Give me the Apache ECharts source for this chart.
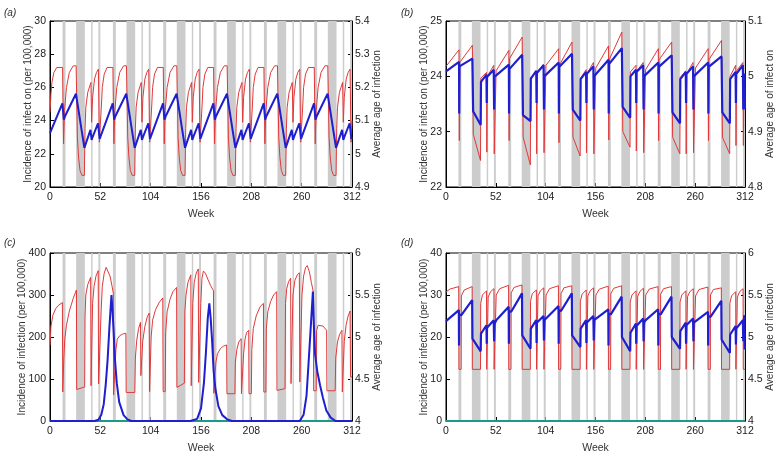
<!DOCTYPE html>
<html><head><meta charset="utf-8">
<script src="https://cdn.jsdelivr.net/npm/echarts@6/dist/echarts.min.js"></script>
<style>html,body{margin:0;padding:0;background:#fff}#c{width:782px;height:456px}</style>
</head><body><div id="c"></div>
<script>
const xTicks = [0, 52, 104, 156, 208, 260, 312];
const holidays = [[13,16],[27,36],[42.5,44],[50,52],[65,68],[79,88],[94.5,96],[102,104],[117,120],[131,140],[146.5,148],[154,156],[169,172],[183,192],[198.5,200],[206,208],[221,224],[235,244],[250.5,252],[258,260],[273,276],[287,296],[302.5,304],[310,312]];

const aRed = [[0,24.5],[1,25.6],[2,26.3],[4,26.9],[7,27.2],[13,27.2],[14,22.6],[15,24.6],[17,26],[20,26.9],[24,27.3],[27,27.3],[28.3,23],[29.5,21.8],[31,21],[33,20.7],[35.5,20.7],[36.2,23.5],[37,24.8],[39,25.7],[42.3,26.3],[43,23.9],[44,25.4],[46,26.5],[48,26.9],[50,27.1],[51,22.7],
[52.3,22.7],[53.2,25],[54,26],[56,26.8],[59,27.2],[65,27.2],[66,22.6],[67,24.6],[69,26],[72,26.9],[76,27.3],[79,27.3],[80.3,23],[81.5,21.8],[83,21],[85,20.7],[87.5,20.7],[88.2,23.5],[89,24.8],[91,25.7],[94.3,26.3],[95,23.9],[96,25.4],[98,26.5],[100,26.9],[102,27.1],[103,22.7],
[104.3,22.7],[105.2,25],[106,26],[108,26.8],[111,27.2],[117,27.2],[118,22.6],[119,24.6],[121,26],[124,26.9],[128,27.3],[131,27.3],[132.3,23],[133.5,21.8],[135,21],[137,20.7],[139.5,20.7],[140.2,23.5],[141,24.8],[143,25.7],[146.3,26.3],[147,23.9],[148,25.4],[150,26.5],[152,26.9],[154,27.1],[155,22.7],
[156.3,22.7],[157.2,25],[158,26],[160,26.8],[163,27.2],[169,27.2],[170,22.6],[171,24.6],[173,26],[176,26.9],[180,27.3],[183,27.3],[184.3,23],[185.5,21.8],[187,21],[189,20.7],[191.5,20.7],[192.2,23.5],[193,24.8],[195,25.7],[198.3,26.3],[199,23.9],[200,25.4],[202,26.5],[204,26.9],[206,27.1],[207,22.7],
[208.3,22.7],[209.2,25],[210,26],[212,26.8],[215,27.2],[221,27.2],[222,22.6],[223,24.6],[225,26],[228,26.9],[232,27.3],[235,27.3],[236.3,23],[237.5,21.8],[239,21],[241,20.7],[243.5,20.7],[244.2,23.5],[245,24.8],[247,25.7],[250.3,26.3],[251,23.9],[252,25.4],[254,26.5],[256,26.9],[258,27.1],[259,22.7],
[260.3,22.7],[261.2,25],[262,26],[264,26.8],[267,27.2],[273,27.2],[274,22.6],[275,24.6],[277,26],[280,26.9],[284,27.3],[287,27.3],[288.3,23],[289.5,21.8],[291,21],[293,20.7],[295.5,20.7],[296.2,23.5],[297,24.8],[299,25.7],[302.3,26.3],[303,23.9],[304,25.4],[306,26.5],[308,26.9],[310,27.1],[311,22.7],[312,24]];

const aBlue = [[0,5.062],[12.8,5.152],[14.3,5.103],[15.5,5.113],[26.8,5.181],[35.5,5.018],[41.8,5.072],[43,5.042],[44,5.05],[49.6,5.092],[51.3,5.045],
[52.3,5.047],[64.8,5.152],[66.3,5.103],[67.5,5.113],[78.8,5.181],[87.5,5.018],[93.8,5.072],[95,5.042],[96,5.05],[101.6,5.092],[103.3,5.045],
[104.3,5.047],[116.8,5.152],[118.3,5.103],[119.5,5.113],[130.8,5.181],[139.5,5.018],[145.8,5.072],[147,5.042],[148,5.05],[153.6,5.092],[155.3,5.045],
[156.3,5.047],[168.8,5.152],[170.3,5.103],[171.5,5.113],[182.8,5.181],[191.5,5.018],[197.8,5.072],[199,5.042],[200,5.05],[205.6,5.092],[207.3,5.045],
[208.3,5.047],[220.8,5.152],[222.3,5.103],[223.5,5.113],[234.8,5.181],[243.5,5.018],[249.8,5.072],[251,5.042],[252,5.05],[257.6,5.092],[259.3,5.045],
[260.3,5.047],[272.8,5.152],[274.3,5.103],[275.5,5.113],[286.8,5.181],[295.5,5.018],[301.8,5.072],[303,5.042],[304,5.05],[309.6,5.092],[311.3,5.045],[312,5.05]];

const bRed = [[0,24.18],[13.6,24.48],[13.9,22.84],[14.3,24.25],[27.5,24.56],[28.5,22.95],[36,22.48],[36.4,23.97],[42.3,24.07],[42.6,22.63],[43.2,24.0],[49.8,24.2],[50.3,22.6],
[52.3,24.1],[65.6,24.47],[65.9,22.84],[66.3,24.32],[79.5,24.71],[80.5,22.9],[88,22.4],[88.4,23.97],[94.3,24.1],[94.6,22.6],[95.2,24.05],[101.8,24.22],[102.3,22.62],
[104.3,24.2],[117.6,24.5],[117.9,22.8],[118.3,24.2],[131.5,24.62],[132.5,22.9],[140,22.56],[140.4,23.97],[146.3,24.12],[146.6,22.62],[147.2,24.05],[153.8,24.25],[154.3,22.6],
[156.3,24.15],[169.6,24.55],[169.9,22.85],[170.3,24.3],[183.5,24.8],[184.5,23.0],[192,22.72],[192.4,24.08],[198.3,24.2],[198.6,22.65],[199.2,24.1],[205.8,24.25],[206.3,22.62],
[208.3,24.12],[221.6,24.5],[221.9,22.84],[222.3,24.3],[235.5,24.62],[236.5,22.9],[244,22.6],[244.4,23.98],[250.3,24.1],[250.6,22.6],[251.2,24.05],[257.8,24.25],[258.3,22.62],
[260.3,24.15],[273.6,24.5],[273.9,22.84],[274.3,24.3],[287.5,24.65],[288.5,22.9],[296,22.6],[296.4,24.0],[302.3,24.2],[302.6,22.75],[303.2,24.1],[309.8,24.25],[310.3,22.75],[311,24.0],[312,24.02]];

const bBlue = [[0,5.009],[13.6,5.026],[13.8,4.933],[14.1,5.018],[27.5,5.032],[28.3,4.937],[36.2,4.912],[36.5,4.99],[42.2,5.003],[42.5,4.952],[42.8,4.999],[49.8,5.012],[50.2,4.94],[50.5,4.999],
[52.4,4.999],[65.6,5.021],[65.8,4.933],[66.1,5.013],[79.5,5.039],[80.3,4.93],[88.2,4.919],[88.5,4.996],[94.2,5.01],[94.5,4.952],[94.8,5.006],[101.8,5.02],[102.2,4.94],[102.5,5.0],
[104.4,5.0],[117.6,5.025],[117.8,4.933],[118.1,5.017],[131.5,5.041],[132.3,4.94],[140.2,4.92],[140.5,4.995],[146.2,5.008],[146.5,4.952],[146.8,5.004],[153.8,5.018],[154.2,4.94],[154.5,5.0],
[156.4,5.003],[169.6,5.03],[169.8,4.933],[170.1,5.022],[183.5,5.051],[184.3,4.945],[192.2,4.925],[192.5,5.0],[198.2,5.012],[198.5,4.952],[198.8,5.008],[205.8,5.02],[206.2,4.94],[206.5,5.0],
[208.4,5.0],[221.6,5.025],[221.8,4.933],[222.1,5.017],[235.5,5.038],[236.3,4.935],[244.2,4.915],[244.5,4.995],[250.2,5.008],[250.5,4.952],[250.8,5.004],[257.8,5.018],[258.2,4.94],[258.5,5.0],
[260.4,5.0],[273.6,5.025],[273.8,4.933],[274.1,5.017],[287.5,5.036],[288.3,4.935],[296.2,4.915],[296.5,4.995],[302.2,5.008],[302.5,4.952],[302.8,5.004],[309.8,5.02],[310.2,4.94],[310.5,5.0],[311.5,5.005],[312,4.94]];

const cRed = [[0,180],[1,225],[3,252],[6,268],[9,276],[12.8,282],
[13.2,69],[14.3,150],[15.3,195],[17,228],[20,262],[24,292],[27.3,312],
[27.6,75],[35.8,81],[36.2,250],[37,300],[39,325],[42,342],
[42.4,84],[43.4,84],[44,280],[45.5,320],[47.5,345],[49.8,358],
[50.2,88],[52.2,88],[52.8,260],[54,320],[56,352],[58,366],[60,362],[62,345],[64,322],[65.4,305],
[65.7,62],[67.7,62],[68.1,170],[69.5,195],[72,203],[75,207],[78.4,209],
[78.7,68],[87.6,68],[88.2,150],[89.5,190],[91.5,220],[93.5,235],
[93.9,108],[95,108],[95.8,190],[98,225],[100.5,248],[102.5,257],
[102.9,70],[104,70],[104.5,200],[106,240],[109,265],[113,283],[116.5,293],
[116.9,70],[119,70],[119.5,210],[121,260],[124,290],[127,308],[130.8,318],
[131.1,80],[138.8,90],[139.3,260],[140.5,300],[142.5,330],[145.5,348],
[145.9,84],[147,84],[147.5,280],[149,330],[151,352],[153.2,362],
[153.6,92],[155.4,92],[155.8,280],[157,340],[158.5,357],[160.5,352],[163,338],[166,322],[168.9,310],
[169.2,66],[171,66],[171.4,140],[173,160],[176,172],[179,178],[182.5,181],
[182.8,65],[191,65],[191.5,140],[193,170],[195,188],[197.5,196],
[197.8,65],[199.5,65],[200,160],[201.5,195],[203,210],[205.3,216],
[205.6,65],[208,65],[208.5,170],[210,220],[213,250],[217,272],[220.5,280],
[220.9,69],[223,69],[223.5,220],[225,260],[228,285],[231,300],[234.2,308],
[234.5,73],[242.8,77],[243.3,280],[244.5,315],[246.5,332],[248.6,340],
[249,89],[250.4,89],[251,300],[253,335],[255.5,348],[257.6,353],
[258.1,93],[259.8,93],[260.3,300],[262,345],[264,365],[265.8,370],[268,355],[270,330],[272,308],
[272.4,72],[275,72],[275.4,215],[277,228],[279,232],[282,226],[285.8,216],
[286.1,72],[294.6,72],[295.2,150],[297,188],[299,205],[301.6,216],
[302,69],[303.5,69],[304,190],[306,230],[308,250],[310,262],
[310.5,105],[312,105]];

const cBlue = [[0,0],[46,0],[50,3],[53,15],[55.5,40],[57.5,85],[59.5,145],[61.3,220],[63.5,300],[64.5,265],[65.6,220],[67,150],[69,90],[71.5,45],[76,14],[80,4],[84,0],
[145,0],[152,5],[156,30],[159,90],[161,160],[163,245],[164.6,280],[166,245],[167.5,190],[169,120],[171,75],[174,35],[178,14],[183,4],[188,0],
[258,0],[262,15],[265,60],[267,133],[269.3,220],[271.6,308],[272.6,230],[273.8,160],[276,120],[279,85],[282,55],[285.5,25],[290,8],[295,0],[312,0]];

const baseline = [[0,0],[312,0]];

const dRed = [[0,30.7],[4,31.4],[13.3,32.0],[13.5,12.3],[15.8,12.3],[16,29.8],[19,31.2],[27.3,32.0],[27.5,12.3],[36,12.3],[36.2,28.0],[38,30.0],[42.3,31.0],[42.5,12.3],[43.8,12.3],[44,29.5],[46.5,30.8],[50,31.5],[50.2,12.3],[52.2,12.3],
[52.4,30.0],[56,31.5],[65.3,32.3],[65.5,12.3],[67.8,12.3],[68,30.5],[71,31.8],[79.3,32.4],[79.5,12.3],[88,12.3],[88.2,28.5],[90,30.3],[94.3,31.2],[94.5,12.3],[95.8,12.3],[96,29.8],[98.5,31.0],[102,31.7],[102.2,12.3],[104.2,12.3],
[104.4,30.0],[108,31.5],[117.3,32.2],[117.5,12.3],[119.8,12.3],[120,30.3],[123,31.7],[131.3,32.2],[131.5,12.3],[140,12.3],[140.2,28.5],[142,30.2],[146.3,31.2],[146.5,12.3],[147.8,12.3],[148,29.8],[150.5,31.0],[154,31.7],[154.2,12.3],[156.2,12.3],
[156.4,30.0],[160,31.4],[169.3,32.1],[169.5,12.3],[171.8,12.3],[172,30.3],[175,31.6],[183.3,32.2],[183.5,12.3],[192,12.3],[192.2,28.3],[194,30.0],[198.3,31.0],[198.5,12.3],[199.8,12.3],[200,29.7],[202.5,30.9],[206,31.6],[206.2,12.3],[208.2,12.3],
[208.4,30.0],[212,31.4],[221.3,32.0],[221.5,12.3],[223.8,12.3],[224,30.2],[227,31.5],[235.3,32.0],[235.5,12.3],[244,12.3],[244.2,28.3],[246,30.0],[250.3,31.0],[250.5,12.3],[251.8,12.3],[252,29.6],[254.5,30.8],[258,31.5],[258.2,12.3],[260.2,12.3],
[260.4,29.8],[264,31.3],[273.3,31.9],[273.5,12.3],[275.8,12.3],[276,30.0],[279,31.3],[287.3,31.7],[287.5,12.3],[296,12.3],[296.2,28.0],[298,29.8],[302.3,30.8],[302.5,12.3],[303.8,12.3],[304,29.5],[306.5,30.8],[310,31.5],[310.2,12.3],[312,12.3]];

const dBlue = [[0,5.19],[13.4,5.32],[13.6,4.9],[13.8,5.27],[16,5.26],[27.3,5.44],[27.6,4.98],[36.2,4.83],[36.5,5.04],[42.2,5.14],[42.5,4.92],[42.8,5.11],[49.8,5.2],[50.2,4.95],[50.5,5.15],[52.4,5.2],
[65.4,5.36],[65.6,4.92],[65.8,5.31],[68,5.30],[79.3,5.52],[79.6,5.02],[88.2,4.86],[88.5,5.1],[94.2,5.2],[94.5,4.93],[94.8,5.17],[101.8,5.25],[102.2,4.96],[102.5,5.2],[104.4,5.22],
[117.4,5.37],[117.6,4.92],[117.8,5.32],[120,5.31],[131.3,5.52],[131.6,5.02],[140.2,4.88],[140.5,5.1],[146.2,5.2],[146.5,4.93],[146.8,5.17],[153.8,5.25],[154.2,4.96],[154.5,5.2],[156.4,5.2],
[169.4,5.33],[169.6,4.9],[169.8,5.28],[172,5.27],[183.3,5.48],[183.6,5.0],[192.2,4.83],[192.5,5.05],[198.2,5.16],[198.5,4.92],[198.8,5.13],[205.8,5.22],[206.2,4.95],[206.5,5.17],[208.4,5.2],
[221.4,5.33],[221.6,4.9],[221.8,5.28],[224,5.27],[235.3,5.48],[235.6,5.0],[244.2,4.86],[244.5,5.07],[250.2,5.17],[250.5,4.92],[250.8,5.14],[257.8,5.22],[258.2,4.95],[258.5,5.17],[260.4,5.18],
[273.4,5.3],[273.6,4.9],[273.8,5.25],[276,5.24],[287.3,5.43],[287.6,4.97],[296.2,4.81],[296.5,5.03],[302.2,5.13],[302.5,4.91],[302.8,5.1],[309.8,5.2],[310.2,4.95],[310.5,5.18],[311.4,5.26],[311.7,4.85],[312,4.85]];

const panelLabels = ['(a)', '(b)', '(c)', '(d)'];
const leftNames = ['Incidence of infect on (per 100,000)', 'Incidence of infect on (per 100,000)', 'Incidence of infection (per 100,000)', 'Incidence of infection (per 100,000)'];
const rightNames = ['Average age of infection', 'Average age of infect on', 'Average age of infection', 'Average age of infection'];
const leftRanges = [[20,30,2],[22,25,1],[0,400,100],[0,40,10]];
const rightRanges = [[4.9,5.4,0.1],[4.8,5.1,0.1],[4,6,0.5],[4,6,0.5]];

const FONT = 'Liberation Sans, Arial, sans-serif';
const RED = '#e0393a', BLUE = '#1f1fd0', BAND = '#cccccc', TEAL = '#1b9a8c';
const grids = [
  {left:50, top:21, width:302, height:166},
  {left:446, top:21, width:299, height:166},
  {left:50, top:253, width:302, height:168},
  {left:446, top:253, width:299, height:168}
];
const leftGaps = [17, 17, 23, 17];
const labelPos = [[4,8],[401,8],[4,238],[401,238]];

const option = {animation:false, backgroundColor:'#fff', grid:[], xAxis:[], yAxis:[], series:[], graphic:[]};
grids.forEach((g, i) => {
  option.grid.push(Object.assign({show:true, borderColor:'#000', borderWidth:1, backgroundColor:'transparent'}, g));
  option.xAxis.push({gridIndex:i, type:'value', min:xTicks[0], max:xTicks[xTicks.length-1], interval:52,
    axisLine:{show:true, onZero:false, lineStyle:{color:'#000', width:1}},
    axisTick:{show:true, inside:true, length:4, lineStyle:{color:'#000'}},
    axisLabel:{color:'#222', fontSize:10.5, margin:5, fontFamily:FONT},
    splitLine:{show:false},
    name:'Week', nameLocation:'middle', nameGap:22, nameTextStyle:{color:'#333', fontSize:10.5, fontFamily:FONT}});
  const L = leftRanges[i], R = rightRanges[i];
  option.yAxis.push({gridIndex:i, type:'value', position:'left', min:L[0], max:L[1], interval:L[2],
    axisLine:{show:true, onZero:false, lineStyle:{color:'#000'}},
    axisTick:{show:true, inside:true, length:4, lineStyle:{color:'#000'}},
    axisLabel:{color:'#222', fontSize:10.5, margin:4, fontFamily:FONT},
    splitLine:{show:false}, nameMoveOverlap:false,
    name:leftNames[i], nameLocation:'middle', nameGap:leftGaps[i], nameRotate:90,
    nameTextStyle:{color:'#333', fontSize:10, fontFamily:FONT}});
  option.yAxis.push({gridIndex:i, type:'value', position:'right', min:R[0], max:R[1], interval:R[2],
    axisLine:{show:true, onZero:false, lineStyle:{color:'#000'}},
    axisTick:{show:true, inside:true, length:4, lineStyle:{color:'#000'}},
    axisLabel:{color:'#222', fontSize:10.5, margin:3, fontFamily:FONT},
    splitLine:{show:false}, nameMoveOverlap:false,
    name:rightNames[i], nameLocation:'middle', nameGap:20, nameRotate:90,
    nameTextStyle:{color:'#333', fontSize:10, fontFamily:FONT}});
  option.series.push({type:'line', xAxisIndex:i, yAxisIndex:2*i, data:[], z:1, silent:true,
    markArea:{silent:true, itemStyle:{color:BAND}, data: holidays.map(h => [{xAxis:h[0]}, {xAxis:h[1]}])}});
  option.graphic.push({type:'text', left:labelPos[i][0], top:labelPos[i][1],
    style:{text:panelLabels[i], font:'italic 10px ' + FONT, fill:'#333'}});
});

function line(i, axis, data, color, width, z) {
  option.series.push({type:'line', xAxisIndex:i, yAxisIndex:axis, data:data, symbol:'none', showSymbol:false,
    lineStyle:{color:color, width:width}, z:z, silent:true, clip:true});
}
line(0, 0, aRed, RED, 1, 3);
line(0, 1, aBlue, BLUE, 2, 4);
line(1, 2, bRed, RED, 1, 3);
line(1, 3, bBlue, BLUE, 2.2, 4);
line(2, 4, baseline, TEAL, 2, 2);
line(2, 4, cRed, RED, 1, 3);
line(2, 4, cBlue, BLUE, 2, 4);
line(3, 6, baseline, TEAL, 2, 2);
line(3, 6, dRed, RED, 1, 3);
line(3, 7, dBlue, BLUE, 2.2, 4);

const chart = echarts.init(document.getElementById('c'), null, {renderer:'canvas'});
chart.setOption(option);
</script>
</body></html>
